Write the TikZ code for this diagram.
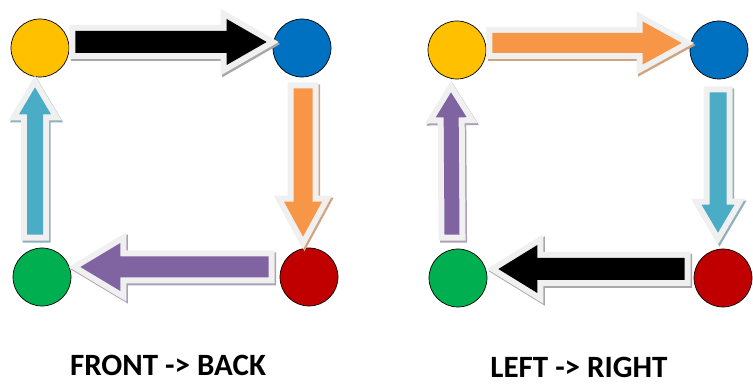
\documentclass[tikz,border=0pt]{standalone}
\usepackage{fontspec}
\setmainfont{Carlito}
\usetikzlibrary{calc}
\definecolor{cyel}{HTML}{FFC000}
\definecolor{cblu}{HTML}{0070C0}
\definecolor{cgrn}{HTML}{00B050}
\definecolor{cred}{HTML}{C00000}
\definecolor{corg}{HTML}{F79646}
\definecolor{ccya}{HTML}{4BACC6}
\definecolor{cpur}{HTML}{8064A2}
\definecolor{outl}{HTML}{F0F0F0}
\definecolor{shblk}{HTML}{A8A8A8}
\definecolor{shorg}{HTML}{D2A47E}
\definecolor{shcya}{HTML}{8FB0BA}
\definecolor{shpur}{HTML}{ABA2B8}
\tikzset{
  dot/.style={circle, draw=black, line width=0.7pt, minimum size=58pt, inner sep=0pt},
  caption/.style={font=\fontsize{31}{31}\selectfont\bfseries, anchor=base, inner sep=0pt}
}
% #1 fill, #2 shadow, #3 from, #4 tip, #5 shaft half width, #6 head half width, #7 head length
\newcommand\blockarr[7]{%
  \coordinate (bac) at ($(#4)!#7!(#3)$);
  \coordinate (bp1) at ($(#3)!#5!90:(#4)$);
  \coordinate (bp2) at ($(bac)!#5!90:(#4)$);
  \coordinate (bp3) at ($(bac)!#6!90:(#4)$);
  \coordinate (bp5) at ($(bac)!#6!-90:(#4)$);
  \coordinate (bp6) at ($(bac)!#5!-90:(#4)$);
  \coordinate (bp7) at ($(#3)!#5!-90:(#4)$);
  \filldraw[#2, line width=12pt, line join=miter, transform canvas={shift={(1.5pt,-2pt)}}]
    (bp1) -- (bp2) -- (bp3) -- (#4) -- (bp5) -- (bp6) -- (bp7) -- cycle;
  \filldraw[outl, line width=12pt, line join=miter]
    (bp1) -- (bp2) -- (bp3) -- (#4) -- (bp5) -- (bp6) -- (bp7) -- cycle;
  \fill[#1] (bp1) -- (bp2) -- (bp3) -- (#4) -- (bp5) -- (bp6) -- (bp7) -- cycle;
}
\begin{document}
\begin{tikzpicture}[x=1pt, y=-1pt]
\useasboundingbox (0,0) rectangle (753,387);
% left diagram
\node[dot, fill=cyel] (Y1) at (40,48) {};
\node[dot, fill=cblu] (B1) at (302,48) {};
\node[dot, fill=cgrn] (G1) at (42,277) {};
\node[dot, fill=cred] (R1) at (309,277) {};
\coordinate (k1s) at ([xshift=6pt, yshift=6pt]Y1.east);
\coordinate (k1e) at ([xshift=-6pt, yshift=6pt]B1.west);
\coordinate (o1s) at ([xshift=1pt, yshift=-11pt]B1.south);
\coordinate (o1e) at ([xshift=-6pt, yshift=11pt]R1.north);
\coordinate (p1s) at ([xshift=-11pt, yshift=10pt]R1.west);
\coordinate (p1e) at ([xshift=9pt, yshift=10pt]G1.east);
\coordinate (c1s) at ([xshift=-7pt, yshift=13pt]G1.north);
\coordinate (c1e) at ([xshift=-5pt, yshift=-10pt]Y1.south);
\blockarr{black}{shblk}{k1s}{k1e}{11pt}{23pt}{40pt}
\blockarr{corg}{shorg}{o1s}{o1e}{9.5pt}{19pt}{35pt}
\blockarr{cpur}{shpur}{p1s}{p1e}{10.5pt}{24pt}{40pt}
\blockarr{ccya}{shcya}{c1s}{c1e}{8pt}{16pt}{27pt}
% right diagram
\node[dot, fill=cyel] (Y2) at (457,50) {};
\node[dot, fill=cblu] (B2) at (719,50) {};
\node[dot, fill=cgrn] (G2) at (458,278) {};
\node[dot, fill=cred] (R2) at (723,278) {};
\coordinate (o2s) at ([xshift=6pt, yshift=7pt]Y2.east);
\coordinate (o2e) at ([xshift=-8pt, yshift=7pt]B2.west);
\coordinate (c2s) at ([xshift=-1pt, yshift=-13pt]B2.south);
\coordinate (c2e) at ([xshift=-5pt, yshift=16pt]R2.north);
\coordinate (k2s) at ([xshift=-9pt, yshift=9pt]R2.west);
\coordinate (k2e) at ([xshift=11pt, yshift=9pt]G2.east);
\coordinate (p2s) at ([xshift=-6pt, yshift=14pt]G2.north);
\coordinate (p2e) at ([xshift=-6pt, yshift=-13pt]Y2.south);
\blockarr{corg}{shorg}{o2s}{o2e}{10pt}{21.5pt}{39pt}
\blockarr{ccya}{shcya}{c2s}{c2e}{8.5pt}{16.5pt}{28pt}
\blockarr{black}{shblk}{k2s}{k2e}{11pt}{24pt}{39pt}
\blockarr{cpur}{shpur}{p2s}{p2e}{7.5pt}{15.5pt}{25pt}
% captions
\node[caption] (cap1) at (168,376) {FRONT -> BACK};
\node[caption] (cap2) at (579,378) {LEFT -> RIGHT};
\end{tikzpicture}
\end{document}
